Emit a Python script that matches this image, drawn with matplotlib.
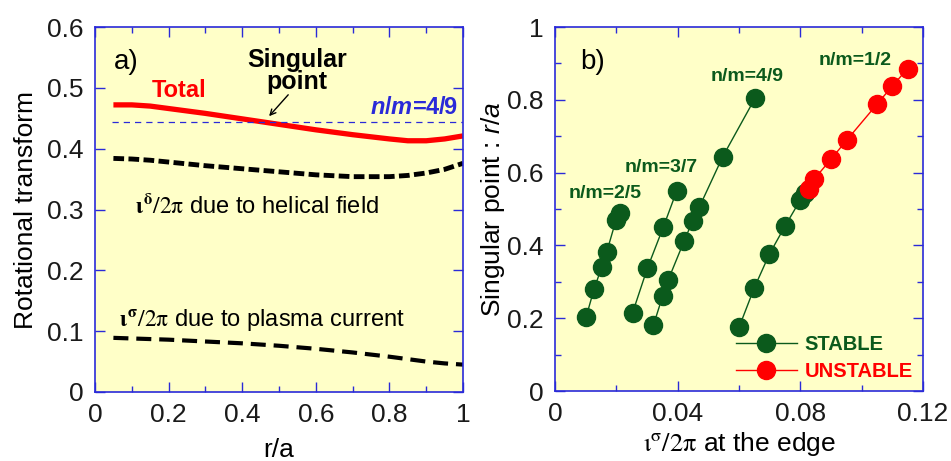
import matplotlib
matplotlib.use("Agg")
import matplotlib.pyplot as plt
from matplotlib.ticker import MultipleLocator

plt.rcParams['font.family'] = ['Liberation Sans', 'DejaVu Sans']
plt.rcParams['mathtext.fontset'] = 'stix'
# custom math font (used only where math_fontfamily='custom')
plt.rcParams['mathtext.rm'] = 'Liberation Sans'
plt.rcParams['mathtext.it'] = 'Liberation Sans:italic'
plt.rcParams['mathtext.bf'] = 'Liberation Sans:bold'
plt.rcParams['mathtext.bfit'] = 'Liberation Sans:italic:bold'

# panel a) rotational transform profiles
r_a = [0.05, 0.1, 0.15, 0.2, 0.3, 0.4, 0.5, 0.6, 0.7, 0.8, 0.85, 0.9, 0.95, 1.0]
iota_total = [0.472, 0.472, 0.470, 0.466, 0.458, 0.449, 0.440, 0.431, 0.423, 0.416, 0.413, 0.413, 0.416, 0.421]
iota_helical = [0.384, 0.383, 0.381, 0.378, 0.372, 0.367, 0.362, 0.357, 0.354, 0.354, 0.356, 0.360, 0.366, 0.376]
iota_plasma = [0.089, 0.088, 0.087, 0.086, 0.083, 0.080, 0.076, 0.071, 0.065, 0.058, 0.054, 0.050, 0.047, 0.045]
resonance = 4 / 9

# panel b) singular point vs edge iota from plasma current
x_25 = [0.0101, 0.0127, 0.0152, 0.0169, 0.0199, 0.0212]
y_25 = [0.202, 0.279, 0.340, 0.383, 0.470, 0.490]
x_37 = [0.0253, 0.0301, 0.0353, 0.0397]
y_37 = [0.215, 0.337, 0.450, 0.550]
x_49 = [0.0321, 0.0351, 0.0369, 0.0421, 0.0449, 0.0471, 0.0547, 0.0652]
y_49 = [0.181, 0.261, 0.305, 0.412, 0.468, 0.506, 0.644, 0.804]
x_12s = [0.0601, 0.0650, 0.0699, 0.0750, 0.0800, 0.0816]
y_12s = [0.177, 0.284, 0.376, 0.453, 0.525, 0.545]
x_12u = [0.0827, 0.0846, 0.0901, 0.0952, 0.1050, 0.1099, 0.1150]
y_12u = [0.556, 0.583, 0.638, 0.690, 0.788, 0.837, 0.886]

bg = '#ffffc8'
blue = '#2a2ad8'
green = '#0b5a1c'
red = '#ff0000'
tick_fs = 19

fig = plt.figure(figsize=(9.51, 4.61), dpi=100)
ax1 = fig.add_axes([0.0999, 0.1497, 0.387, 0.7917])
ax2 = fig.add_axes([0.5836, 0.1518, 0.387, 0.7896])

for ax in (ax1, ax2):
    ax.set_facecolor(bg)
    for s in ax.spines.values():
        s.set_color(blue)
        s.set_linewidth(1.2)
    ax.tick_params(which='both', direction='in', top=True, right=True,
                   color=blue, width=1.0, labelsize=tick_fs, labelcolor='#1a1a1a')
    ax.tick_params(which='major', length=7, pad=8)
    ax.tick_params(which='minor', length=4)

# ---- a)
ax1.plot(r_a, iota_total, color=red, lw=3.8, solid_capstyle='butt')
ax1.plot(r_a, iota_helical, color='black', lw=3.5, dashes=(2.2, 0.9))
ax1.plot(r_a, iota_plasma, color='black', lw=3.0, dashes=(3.6, 1.9))
ax1.plot([0.045, 1.0], [resonance, resonance], color=blue, lw=0.9, dashes=(5, 4))

ax1.set_xlim(0, 1)
ax1.set_ylim(0, 0.6)
ax1.xaxis.set_major_locator(MultipleLocator(0.2))
ax1.xaxis.set_minor_locator(MultipleLocator(0.1))
ax1.yaxis.set_major_locator(MultipleLocator(0.1))
ax1.xaxis.set_major_formatter(plt.FuncFormatter(lambda v, p: '%g' % round(v, 2)))
ax1.yaxis.set_major_formatter(plt.FuncFormatter(lambda v, p: '%g' % round(v, 2)))
ax1.set_xlabel('r/a', fontsize=19, labelpad=8)
ax1.set_ylabel('Rotational transform', fontsize=19, labelpad=7)

ax1.text(0.05, 0.542, 'a)', fontsize=20, va='center', ha='left')
ax1.text(0.155, 0.496, 'Total', color=red, fontsize=17, fontweight='bold', va='center')
ax1.text(0.548, 0.528, 'Singular\npoint', fontsize=18, fontweight='bold',
         ha='center', va='center', linespacing=0.9)
ax1.annotate('', xy=(0.468, 0.450), xytext=(0.53, 0.492),
             arrowprops=dict(arrowstyle='->', color='black', lw=1.0))
ax1.text(0.985, 0.467, r'$\mathbfit{n}$/$\mathbfit{m}$=4/9', color=blue, fontsize=17,
         fontweight='bold', ha='right', va='center', math_fontfamily='custom')
ax1.text(0.11, 0.305,
         r'$\mathbf{\iota}^{\mathbf{\delta}}\mathrm{/2\pi}$ due to helical field',
         fontsize=17, va='center')
ax1.text(0.065, 0.118,
         r'$\mathbf{\iota}^{\mathbf{\sigma}}\mathrm{/2\pi}$ due to plasma current',
         fontsize=17, va='center')

# ---- b)
ms = 13
kw_s = dict(color=green, lw=1.0, marker='o', ms=ms, mec=green, mfc=green)
kw_u = dict(color=red, lw=1.0, marker='o', ms=ms, mec=red, mfc=red)
ax2.plot(x_25, y_25, **kw_s)
ax2.plot(x_37, y_37, **kw_s)
ax2.plot(x_49, y_49, **kw_s)
ax2.plot(x_12s, y_12s, label='STABLE', **kw_s)
ax2.plot(x_12u, y_12u, label='UNSTABLE', **kw_u)

ax2.set_xlim(0, 0.12)
ax2.set_ylim(0, 1)
ax2.xaxis.set_major_locator(MultipleLocator(0.04))
ax2.xaxis.set_minor_locator(MultipleLocator(0.02))
ax2.yaxis.set_major_locator(MultipleLocator(0.2))
ax2.yaxis.set_minor_locator(MultipleLocator(0.1))
ax2.xaxis.set_major_formatter(plt.FuncFormatter(lambda v, p: '%g' % round(v, 3)))
ax2.yaxis.set_major_formatter(plt.FuncFormatter(lambda v, p: '%g' % round(v, 2)))
ax2.set_xlabel(r'$\mathrm{\iota^{\sigma}/2\pi}$ at the edge', fontsize=19, labelpad=3)
ax2.set_ylabel('Singular point : $r/a$', fontsize=19, labelpad=0, math_fontfamily='custom')

ax2.text(0.0082, 0.904, 'b)', fontsize=20, va='center', ha='left')
for lbl, x, y in [('n/m=2/5', 0.0165, 0.544), ('n/m=3/7', 0.0345, 0.613),
                  ('n/m=4/9', 0.0625, 0.865), ('n/m=1/2', 0.0978, 0.908)]:
    ax2.text(x, y, lbl, color=green, fontsize=14, fontweight='bold', ha='center', va='center')

ax2.legend(loc='lower right', frameon=False, handlelength=3.0, handletextpad=0.4,
           labelspacing=0.4, borderaxespad=0.1, labelcolor='linecolor',
           prop=dict(size=14.5, weight='bold'))

fig.savefig('out.png', dpi=100)
